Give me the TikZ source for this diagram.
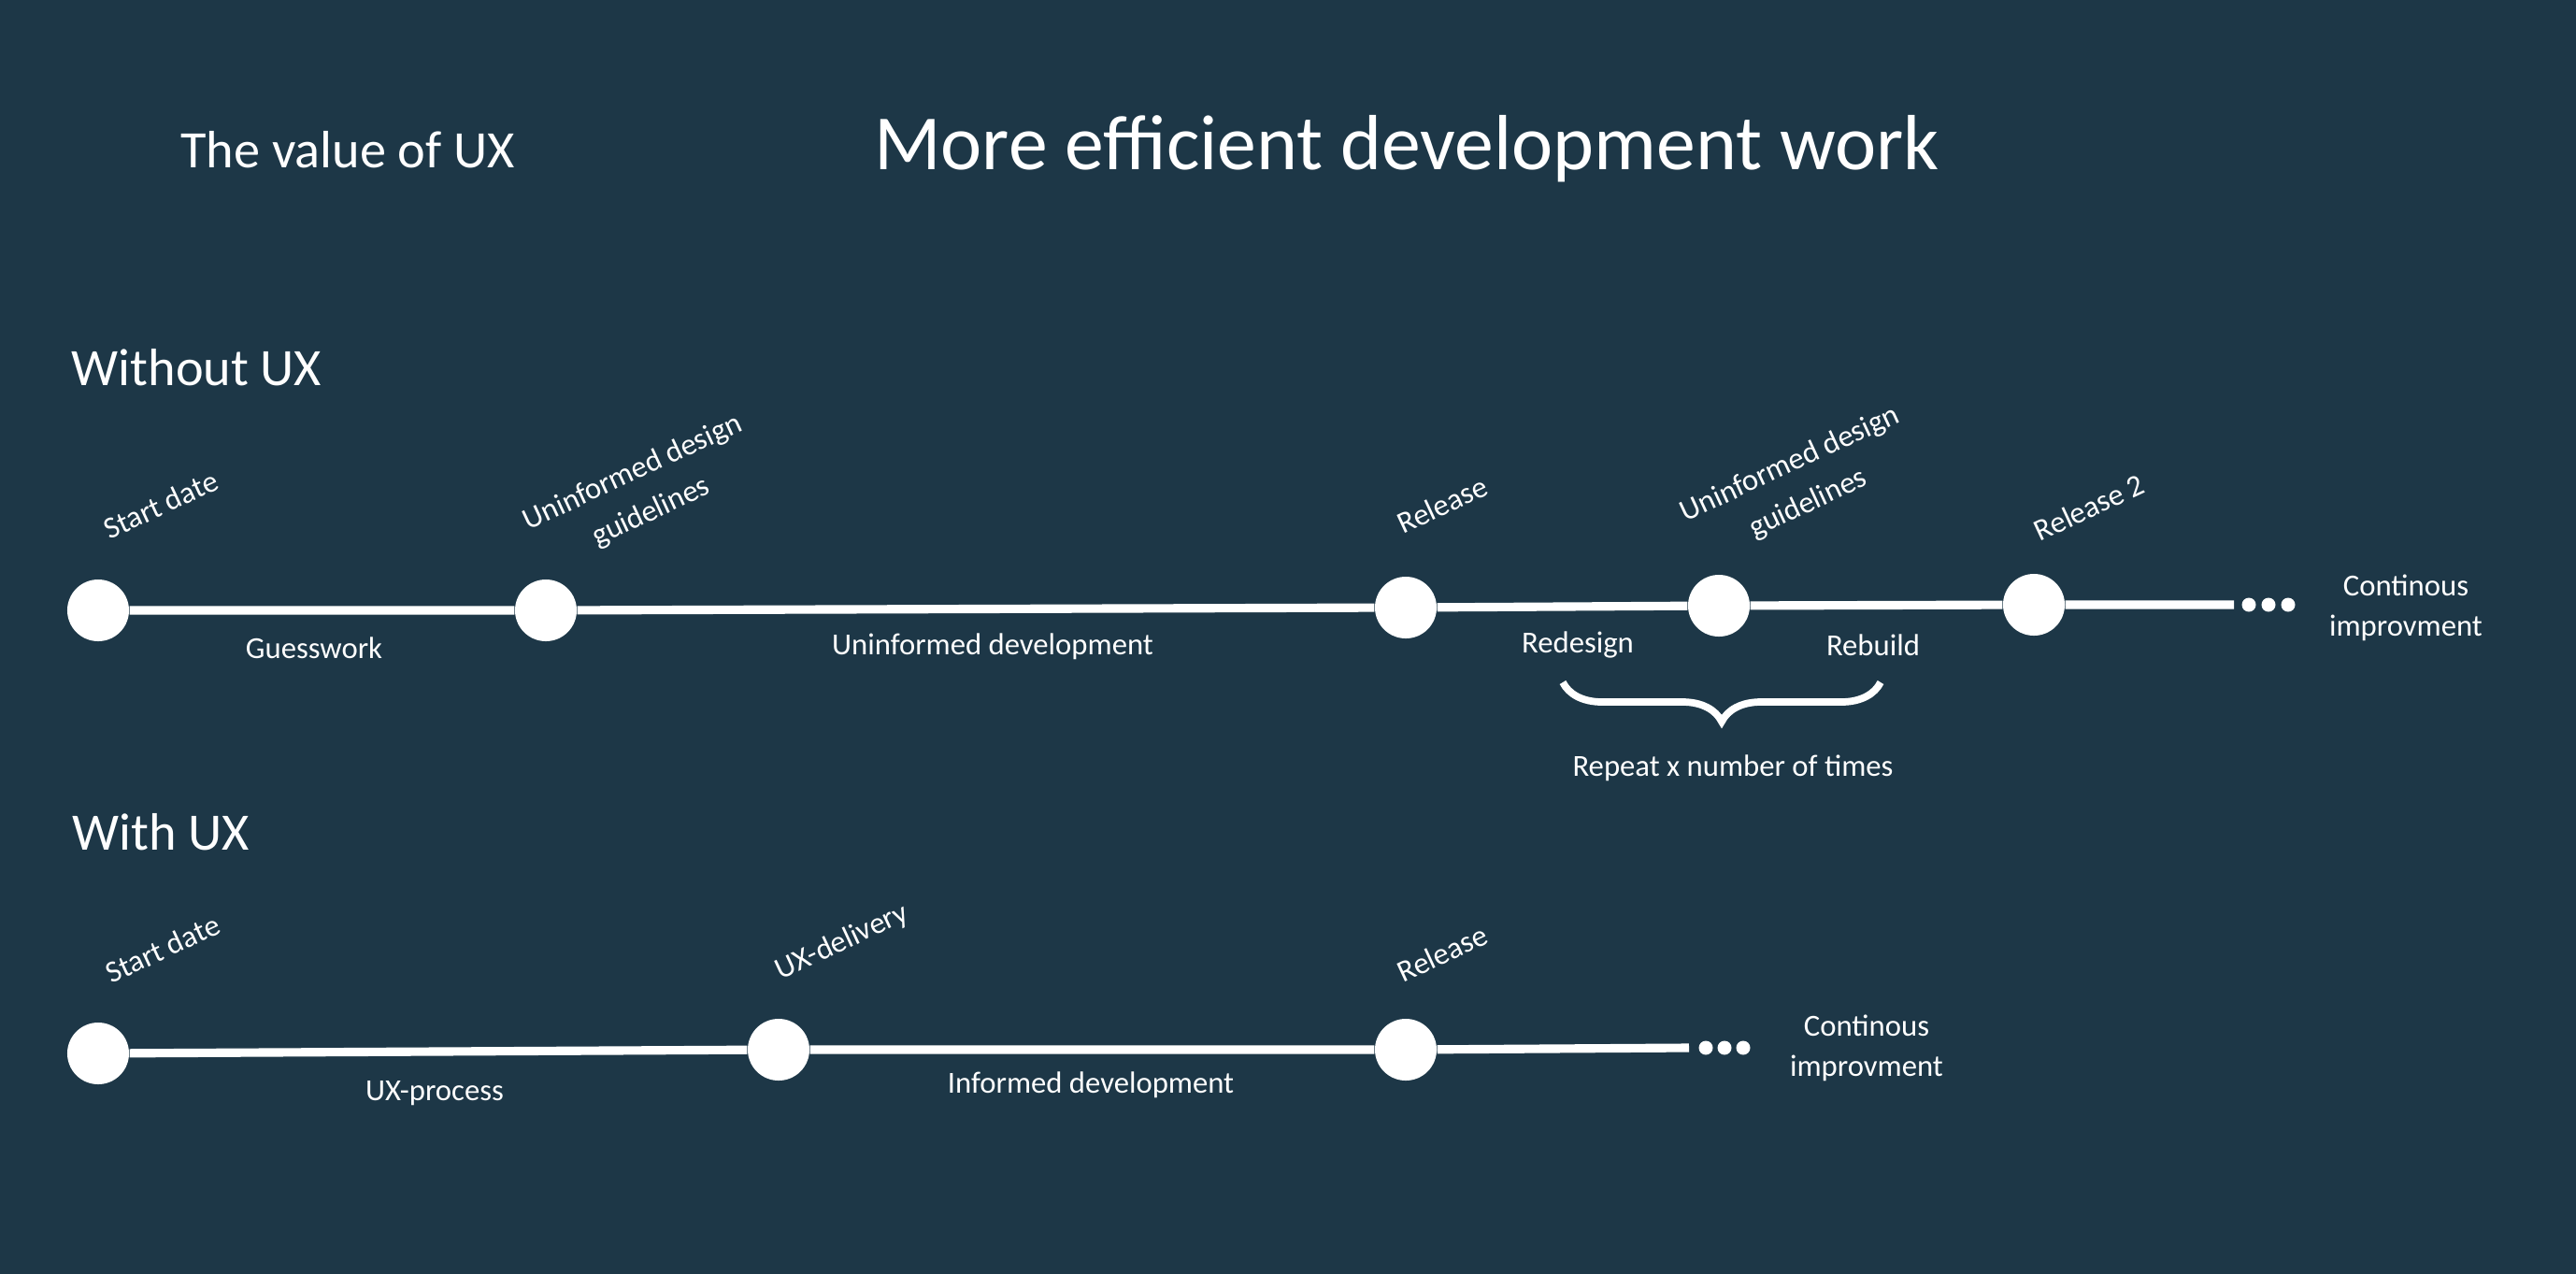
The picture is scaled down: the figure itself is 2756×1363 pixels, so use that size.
\documentclass[tikz,border=0pt]{standalone}
\usepackage{fontspec}
\setmainfont{Carlito}
\usetikzlibrary{decorations.pathreplacing}
\definecolor{uxbg}{RGB}{29,55,71}

\begin{document}
\begin{tikzpicture} [
        x=0.01cm, y=-0.01cm,
        stop/.style={circle,fill=white,minimum size=0.66cm,inner sep=0pt},
        dot/.style={circle,fill=white,minimum size=0.15cm,inner sep=0pt},
        track/.style={white,line width=2.6pt},
        lbl/.style={text=white,font=\fontsize{9.3}{12.2}\selectfont,align=center,inner sep=0pt},
        tag/.style={lbl,rotate=25,font=\fontsize{9.3}{13.2}\selectfont},
        head/.style={text=white,font=\fontsize{16}{19}\selectfont,anchor=base west,inner sep=0pt}
    ]

    % background, 1 unit = 1 px
    \fill[uxbg] (0,0) rectangle (2756,1363);

    \node[text=white,font=\fontsize{23.8}{28}\selectfont,anchor=base,inner sep=0pt] (title) at (1505,181) {More efficient development work};
    \node[head,anchor=base] (value) at (372,179) {The value of UX};
    \node[head] (without) at (76,412) {Without UX};
    \node[head] (with) at (77,909) {With UX};

    % without UX
    \node[stop] (a1) at (105,653) {};
    \node[stop] (a2) at (584,653) {};
    \node[stop] (a3) at (1504,650) {};
    \node[stop] (a4) at (1839,648) {};
    \node[stop] (a5) at (2176,647) {};
    \coordinate (aend) at (2390,647);
    \draw[track] (a1) -- (a2) -- (a3) -- (a4) -- (a5) -- (aend);
    \foreach \i/\x in {1/2406,2/2427,3/2448}
        \node[dot] (ad\i) at (\x,647) {};

    \node[tag] (astart) at (172,540) {Start date};
    \node[tag] (aguide) at (687,527) {Uninformed design\\guidelines};
    \node[tag] (arel) at (1543,540) {Release};
    \node[tag] (aguide2) at (1925,518) {Uninformed design\\guidelines};
    \node[tag] (arel2) at (2235,543) {Release 2};

    \node[lbl] (guess) at (336,693) {Guesswork};
    \node[lbl] (udev) at (1062,692) {Uninformed development};
    \node[lbl] (redesign) at (1688,690) {Redesign};
    \node[lbl] (rebuild) at (2004,690) {Rebuild};
    \node[lbl] (acont) at (2574,650) {Continous\\improvment};

    \coordinate (bl) at (1672,730);
    \coordinate (br) at (2012,730);
    \draw[white,line width=2.2pt,decorate,decoration={brace,mirror,amplitude=0.42cm}] (bl) -- (br);
    \node[lbl] (repeat) at (1854,822) {Repeat x number of times};

    % with UX
    \node[stop] (b1) at (105,1127) {};
    \node[stop] (b2) at (833,1123) {};
    \node[stop] (b3) at (1504,1123) {};
    \coordinate (bend) at (1807,1121);
    \draw[track] (b1) -- (b2) -- (b3) -- (bend);
    \foreach \i/\x in {1/1825,2/1845,3/1865}
        \node[dot] (bd\i) at (\x,1121) {};

    \node[tag] (bstart) at (174,1015) {Start date};
    \node[tag] (bdeliv) at (901,1008) {UX-delivery};
    \node[tag] (brel) at (1543,1020) {Release};

    \node[lbl] (uxproc) at (465,1170) {UX-process};
    \node[lbl] (idev) at (1167,1161) {Informed development};
    \node[lbl] (bcont) at (1997,1121) {Continous\\improvment};

\end{tikzpicture}
\end{document}
